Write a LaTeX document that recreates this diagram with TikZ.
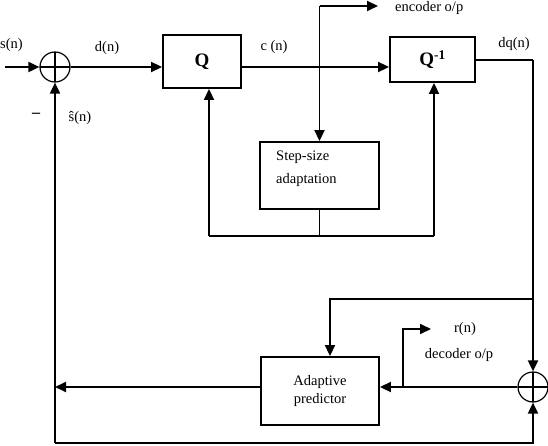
\documentclass[tikz,border=0pt]{standalone}
\usepackage{fontspec}
\setmainfont{Liberation Serif}
\usetikzlibrary{arrows.meta,calc}
\tikzset{
  wire/.style={line width=1.9pt},
  arr/.style={wire,-{Triangle[length=11pt,width=10pt]}},
  blk/.style={draw,line width=1.9pt,inner sep=0pt},
  sumnode/.style={draw,circle,line width=1.2pt,minimum size=30pt,inner sep=0pt,
    path picture={\draw[line width=1.2pt] (path picture bounding box.north) -- (path picture bounding box.south)
      (path picture bounding box.west) -- (path picture bounding box.east);}},
  lbl/.style={inner sep=0pt,font=\fontsize{14.5}{17}\selectfont},
}
\begin{document}
\begin{tikzpicture}[x=1pt,y=-1pt]
\useasboundingbox (0,0) rectangle (548,446);
% blocks
\node[sumnode] (s1) at (55,67) {};
\node[sumnode] (s2) at (533,387) {};
\node[blk,minimum width=78pt,minimum height=53pt,font=\fontsize{19}{20}\selectfont\bfseries] (Q) at (202,61.5) {Q};
\node[blk,minimum width=85pt,minimum height=45pt,font=\fontsize{19}{20}\selectfont\bfseries] (Qi) at (432.5,59.5) {Q\textsuperscript{-1}};
\node[blk,minimum width=119pt,minimum height=67pt] (st) at (319.5,175.5) {};
\node[lbl,anchor=west,align=left,font=\fontsize{14.5}{23}\selectfont] (sttxt) at (276,169) {Step-size\\adaptation};
\node[blk,minimum width=118pt,minimum height=68pt,align=center,font=\fontsize{14.5}{18}\selectfont] (pr) at (320,391) {Adaptive\\predictor};
% coordinates
\coordinate (in) at (5,67);
\coordinate (enctop) at (319.5,6);
\coordinate (encend) at (378,6);
\coordinate (stbot) at (319.5,236);
\coordinate (qb) at (209,236);
\coordinate (qib) at (434,236);
\coordinate (dqc) at (533,60);
\coordinate (tap) at (533,299);
\coordinate (tapl) at (330,299);
\coordinate (rb) at (403,387);
\coordinate (rt) at (403,329);
\coordinate (rend) at (431,329);
\coordinate (lft) at (55,387);
\coordinate (bl) at (55,443);
\coordinate (br) at (533,443);
% connectors
\draw[arr] (in) -- (s1.west);
\draw[arr] (s1.east) -- (Q.west |- s1);
\draw[arr] (Q.east |- s1) -- (Qi.west |- s1);
\draw[arr] (enctop) -- (encend);
\draw[arr] (enctop) -- (st.north);
\draw[wire] (st.south) -- (stbot);
\draw[arr] (qb) -- (qb |- Q.south);
\draw[wire] (qb) -- (qib);
\draw[arr] (qib) -- (qib |- Qi.south);
\draw[wire] (Qi.east |- dqc) -- (dqc);
\draw[arr] (dqc) -- (s2.north);
\draw[arr] (tap) -- (tapl) -- (tapl |- pr.north);
\draw[arr] (s2.west) -- (pr.east |- s2);
\draw[arr] (rb) -- (rt) -- (rend);
\draw[arr] (pr.west |- lft) -- (lft);
\draw[arr] (bl) -- (s1.south);
\draw[arr] (bl) -- (br) -- (s2.south);
% labels
\node[lbl,anchor=west] (ls) at (0,45) {s(n)};
\node[lbl] (ld) at (107,48) {d(n)};
\node[lbl] (lc) at (274,47) {c (n)};
\node[lbl] (ldq) at (514,44) {dq(n)};
\node[lbl,anchor=west] (lenc) at (395,8) {encoder o/p};
\node[lbl] (lsh) at (80,118) {\^{s}(n)};
\node[lbl,font=\fontsize{16}{17}\selectfont\bfseries] (lm) at (36,115) {–};
\node[lbl] (lr) at (465,329) {r(n)};
\node[lbl] (ldec) at (459,355) {decoder o/p};
\end{tikzpicture}
\end{document}
